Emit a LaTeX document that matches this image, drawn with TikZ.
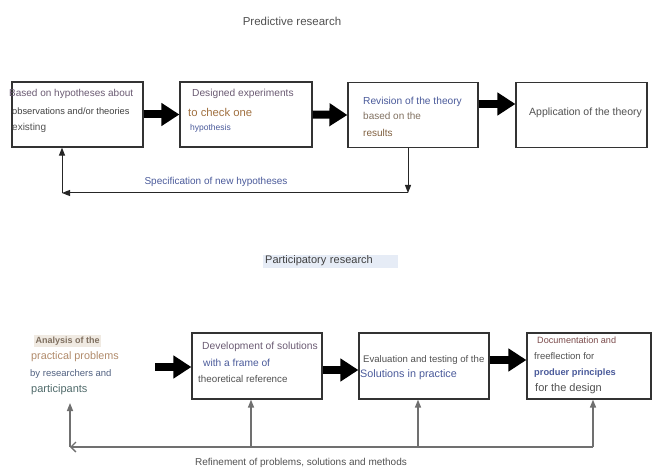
\documentclass[tikz,border=0pt]{standalone}
\usepackage{fontspec}
\setmainfont{Liberation Sans}
\usetikzlibrary{arrows.meta}
\definecolor{cgray}{HTML}{505050}
\definecolor{cdark}{HTML}{404040}
\definecolor{cpurp}{HTML}{6A5A72}
\definecolor{cblue}{HTML}{4A5A9A}
\definecolor{cbrown}{HTML}{A07040}
\definecolor{ctan}{HTML}{807060}
\definecolor{cbrn}{HTML}{806040}
\definecolor{corange}{HTML}{B08A6A}
\definecolor{cslate}{HTML}{506080}
\definecolor{cteal}{HTML}{4F6A6A}
\definecolor{cmaroon}{HTML}{7A4A4A}
\definecolor{bgblue}{HTML}{E6ECF6}
\definecolor{bgbeige}{HTML}{F0EAE2}
\definecolor{fbgray}{HTML}{707070}
\newcommand\myfs[1]{\fontsize{#1}{#1}\selectfont}
\begin{document}
\begin{tikzpicture}[x=1pt,y=-1pt,
  box/.style={draw=black!80, line width=1.2pt, inner sep=0pt, minimum height=65},
  txt/.style={anchor=west, inner sep=0pt},
  bigarrow/.style={line width=8pt, black, -{Triangle[length=18pt,width=22pt]}},
  fbtop/.style={draw=black!85, line width=1pt, -{Triangle[length=8pt,width=6pt]}},
  fbbot/.style={draw=fbgray, line width=1.4pt, -{Triangle[length=8pt,width=6pt]}}
]
\useasboundingbox (0,0) rectangle (655,470);

% ---------- Predictive research ----------
\node[inner sep=0pt, text=cgray, font=\myfs{11.5}] (t1) at (292,21) {Predictive research};

\node[box, minimum width=131] (b1) at (77.5,114.5) {};
\node[box, minimum width=132] (b2) at (246,114.5) {};
\node[box, minimum width=130] (b3) at (413,115) {};
\node[box, minimum width=131] (b4) at (581.5,115) {};

\node[txt, text=cpurp, font=\myfs{10}] (b1a) at (9,94) {Based on hypotheses about};
\node[txt, text=cdark, font=\myfs{9.3}] (b1b) at (12,111) {observations and/or theories};
\node[txt, text=cgray, font=\myfs{10}] (b1c) at (12,128) {existing};

\node[txt, text=cpurp, font=\myfs{10.2}] (b2a) at (192,94) {Designed experiments};
\node[txt, text=cbrown, font=\myfs{11.3}] (b2b) at (188,112) {to check one};
\node[txt, text=cblue, font=\myfs{8.5}] (b2c) at (190,128) {hypothesis};

\node[txt, text=cblue, font=\myfs{10.2}] (b3a) at (363,102) {Revision of the theory};
\node[txt, text=ctan, font=\myfs{10}] (b3b) at (363,116) {based on the};
\node[txt, text=cbrn, font=\myfs{10}] (b3c) at (363,133) {results};

\node[txt, text=cgray, font=\myfs{10.5}] (b4a) at (529,113) {Application of the theory};

\draw[bigarrow] (b1.east) -- (b2.west);
\draw[bigarrow] (b2.east) -- (b3.west);
\draw[bigarrow] ([yshift=11pt]b3.east) -- ([yshift=11pt]b4.west);

\coordinate (fbt) at (62,193);
\draw[fbtop] ([xshift=-5pt]b3.south) -- ([xshift=-5pt]b3.south |- fbt);
\draw[fbtop] ([xshift=-5pt]b3.south |- fbt) -- (fbt);
\draw[fbtop] (fbt) -- (fbt |- b1.south);
\node[inner sep=0pt, text=cblue, font=\myfs{10}] (spec) at (216,182) {Specification of new hypotheses};

% ---------- Participatory research ----------
\node[anchor=west, fill=bgblue, inner sep=0pt, minimum height=13, text width=135, align=left, text=cdark, font=\myfs{11}] (t2) at (263,261) {\hspace*{2pt}Participatory research};

\node[txt, fill=bgbeige, inner xsep=1.5pt, inner ysep=2pt, text=ctan, font=\myfs{9}\bfseries] (a1) at (34,341) {Analysis of the};
\node[txt, text=corange, font=\myfs{10.8}] (a2) at (31,357) {practical problems};
\node[txt, text=cslate, font=\myfs{9.5}] (a3) at (30,374) {by researchers and};
\node[txt, text=cteal, font=\myfs{11}] (a4) at (31,390) {participants};

\node[box, minimum width=130, minimum height=66] (c2) at (257,366) {};
\node[box, minimum width=130, minimum height=66] (c3) at (424,366) {};
\node[box, minimum width=124, minimum height=66] (c4) at (589,366) {};

\node[txt, text=cpurp, font=\myfs{10.3}] (c2a) at (202,347) {Development of solutions};
\node[txt, text=cblue, font=\myfs{10.2}] (c2b) at (203,363) {with a frame of};
\node[txt, text=cgray, font=\myfs{9.8}] (c2c) at (198,379) {theoretical reference};

\node[txt, text=cgray, font=\myfs{9.6}] (c3a) at (363,360) {Evaluation and testing of the};
\node[txt, text=cblue, font=\myfs{10.8}] (c3b) at (360,375) {Solutions in practice};

\node[txt, text=cmaroon, font=\myfs{9.1}] (c4a) at (537,340) {Documentation and};
\node[txt, text=cgray, font=\myfs{9.5}] (c4b) at (534,356) {freeflection for};
\node[txt, text=cblue, font=\myfs{9.3}\bfseries] (c4c) at (534,373) {produer principles};
\node[txt, text=cgray, font=\myfs{11}] (c4d) at (535,389) {for the design};

\coordinate (a1e) at (155,367);
\draw[bigarrow] (a1e) -- (a1e -| c2.west);
\draw[bigarrow] ([yshift=-4pt]c2.east) -- ([yshift=-4pt]c3.west);
\draw[bigarrow] ([yshift=6pt]c3.east) -- ([yshift=6pt]c4.west);

\coordinate (fbL) at (70,447);
\coordinate (fbR) at (593,447);
\coordinate (aup) at (70,403);
\draw[draw=fbgray, line width=1.4pt, -{Straight Barb[length=5pt,width=10pt]}] (fbR) -- (fbL);
\draw[fbbot] (fbL) -- (aup);
\draw[fbbot] ([xshift=-6pt]c2.south |- fbL) -- ([xshift=-6pt]c2.south);
\draw[fbbot] ([xshift=-6pt]c3.south |- fbL) -- ([xshift=-6pt]c3.south);
\draw[fbbot] (fbR) -- (fbR |- c4.south);

\node[inner sep=0pt, text=cgray, font=\myfs{10}] (ref) at (301,463) {Refinement of problems, solutions and methods};
\end{tikzpicture}
\end{document}
